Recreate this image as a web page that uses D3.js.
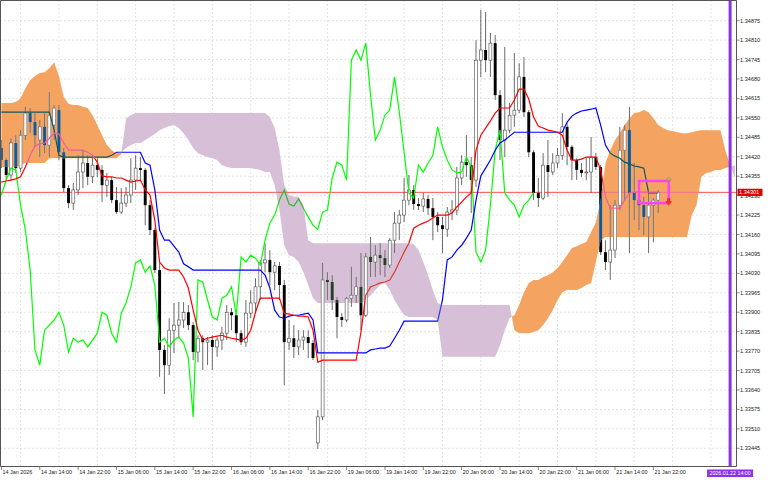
<!DOCTYPE html>
<html><head><meta charset="utf-8">
<script src="https://cdn.jsdelivr.net/npm/d3@7"></script>
<style>body{margin:0;background:#fff;overflow:hidden} svg{display:block}</style>
</head><body>
<svg id="c" width="768" height="480"></svg>
<script>
// ---------------- DATA ----------------
const timeLabels = ["14 Jan 2026","14 Jan 14:00","14 Jan 22:00","15 Jan 06:00","15 Jan 14:00","15 Jan 22:00","16 Jan 06:00","16 Jan 14:00","16 Jan 22:00","19 Jan 06:00","19 Jan 14:00","19 Jan 22:00","20 Jan 06:00","20 Jan 14:00","20 Jan 22:00","21 Jan 06:00","21 Jan 14:00","21 Jan 22:00"];
const priceTicks = [1.34875,1.34810,1.34745,1.34680,1.34615,1.34550,1.34485,1.34420,1.34355,1.34290,1.34225,1.34160,1.34095,1.34030,1.33965,1.33900,1.33835,1.33770,1.33705,1.33640,1.33575,1.33510,1.33445];

const open = [1.34449,1.34409,1.34359,1.34466,1.34382,1.34492,1.34566,1.34536,1.34476,1.34520,1.34459,1.34526,1.34576,1.34435,1.34315,1.34265,1.34309,1.34369,1.34399,1.34353,1.34392,1.34376,1.34325,1.34342,1.34275,1.34235,1.34265,1.34292,1.34342,1.34382,1.34376,1.34258,1.34175,1.34041,1.33774,1.33723,1.33840,1.33857,1.33874,1.33900,1.33857,1.33767,1.33813,1.33800,1.33807,1.33784,1.33807,1.33830,1.33900,1.33890,1.33830,1.33800,1.33897,1.33931,1.33985,1.34065,1.34075,1.34034,1.34055,1.33991,1.33800,1.33813,1.33784,1.33807,1.33817,1.33797,1.33463,1.33550,1.34008,1.34001,1.33941,1.33884,1.33874,1.33947,1.33957,1.33985,1.33890,1.34085,1.34068,1.34091,1.34081,1.34058,1.34141,1.34198,1.34225,1.34275,1.34309,1.34262,1.34255,1.34279,1.34248,1.34219,1.34191,1.34178,1.34235,1.34242,1.34349,1.34402,1.34392,1.34342,1.34743,1.34777,1.34743,1.34800,1.34626,1.34476,1.34509,1.34559,1.34576,1.34687,1.34569,1.34435,1.34299,1.34282,1.34392,1.34369,1.34399,1.34425,1.34520,1.34453,1.34409,1.34376,1.34366,1.34369,1.34419,1.34386,1.34101,1.34068,1.34108,1.34258,1.34442,1.34509,1.34299,1.34275,1.34258,1.34219,1.34258,1.34275];
const high = [1.34476,1.34415,1.34482,1.34492,1.34509,1.34587,1.34583,1.34566,1.34543,1.34566,1.34636,1.34593,1.34593,1.34449,1.34325,1.34332,1.34425,1.34442,1.34425,1.34425,1.34415,1.34392,1.34366,1.34353,1.34319,1.34315,1.34319,1.34415,1.34425,1.34419,1.34382,1.34275,1.34181,1.34068,1.33790,1.33880,1.33931,1.33934,1.33934,1.33924,1.33867,1.33823,1.33823,1.33817,1.33823,1.33817,1.33851,1.33924,1.33914,1.33897,1.33840,1.33941,1.33974,1.34014,1.34075,1.34131,1.34108,1.34068,1.34068,1.34008,1.33874,1.33857,1.33840,1.33840,1.33840,1.33807,1.33573,1.34065,1.34034,1.34024,1.33951,1.33897,1.33951,1.34052,1.34018,1.34098,1.34098,1.34152,1.34124,1.34131,1.34108,1.34148,1.34235,1.34242,1.34349,1.34359,1.34325,1.34282,1.34299,1.34292,1.34282,1.34235,1.34219,1.34252,1.34275,1.34386,1.34425,1.34492,1.34419,1.34810,1.34911,1.34904,1.34834,1.34827,1.34643,1.34787,1.34600,1.34767,1.34733,1.34754,1.34576,1.34442,1.34349,1.34432,1.34476,1.34432,1.34449,1.34566,1.34533,1.34459,1.34415,1.34399,1.34419,1.34486,1.34432,1.34392,1.34141,1.34258,1.34275,1.34520,1.34526,1.34587,1.34399,1.34325,1.34286,1.34302,1.34282,1.34309];
const low = [1.34382,1.34342,1.34342,1.34366,1.34369,1.34476,1.34499,1.34453,1.34419,1.34432,1.34419,1.34476,1.34409,1.34302,1.34248,1.34242,1.34292,1.34315,1.34325,1.34332,1.34353,1.34268,1.34286,1.34265,1.34229,1.34229,1.34252,1.34265,1.34309,1.34342,1.34191,1.34158,1.34031,1.33684,1.33627,1.33690,1.33764,1.33813,1.33847,1.33840,1.33740,1.33733,1.33707,1.33723,1.33707,1.33751,1.33774,1.33807,1.33840,1.33800,1.33790,1.33784,1.33880,1.33900,1.33941,1.34034,1.33991,1.33974,1.33941,1.33656,1.33774,1.33747,1.33757,1.33774,1.33747,1.33740,1.33443,1.33539,1.33941,1.33907,1.33813,1.33851,1.33867,1.33918,1.33931,1.33840,1.33884,1.34018,1.34018,1.34024,1.34018,1.34048,1.34098,1.34141,1.34201,1.34258,1.34242,1.34242,1.34235,1.34225,1.34141,1.34168,1.34098,1.34152,1.34208,1.34225,1.34325,1.34353,1.34232,1.34319,1.34687,1.34703,1.34687,1.34610,1.34409,1.34419,1.34499,1.34520,1.34566,1.34553,1.34419,1.34275,1.34252,1.34275,1.34286,1.34359,1.34382,1.34409,1.34392,1.34342,1.34342,1.34353,1.34342,1.34299,1.34376,1.34091,1.34041,1.34008,1.34081,1.34242,1.34275,1.34098,1.34208,1.34175,1.34158,1.34098,1.34134,1.34232];
const close = [1.34409,1.34359,1.34466,1.34382,1.34492,1.34566,1.34536,1.34492,1.34520,1.34459,1.34559,1.34583,1.34435,1.34315,1.34265,1.34309,1.34369,1.34399,1.34353,1.34392,1.34376,1.34325,1.34342,1.34275,1.34235,1.34265,1.34292,1.34342,1.34382,1.34376,1.34258,1.34175,1.34041,1.33774,1.33723,1.33840,1.33857,1.33874,1.33900,1.33857,1.33767,1.33813,1.33800,1.33807,1.33784,1.33807,1.33830,1.33900,1.33890,1.33830,1.33800,1.33897,1.33931,1.33985,1.34065,1.34075,1.34034,1.34055,1.33991,1.33800,1.33813,1.33784,1.33807,1.33817,1.33797,1.33747,1.33550,1.34008,1.34001,1.33941,1.33884,1.33874,1.33947,1.33957,1.33985,1.33890,1.34085,1.34068,1.34091,1.34081,1.34058,1.34141,1.34198,1.34225,1.34275,1.34309,1.34262,1.34255,1.34279,1.34248,1.34219,1.34191,1.34178,1.34235,1.34242,1.34349,1.34402,1.34392,1.34342,1.34743,1.34777,1.34743,1.34800,1.34626,1.34476,1.34509,1.34559,1.34576,1.34687,1.34569,1.34435,1.34299,1.34282,1.34392,1.34369,1.34399,1.34425,1.34520,1.34453,1.34409,1.34376,1.34366,1.34369,1.34419,1.34386,1.34101,1.34068,1.34108,1.34258,1.34442,1.34509,1.34299,1.34275,1.34258,1.34219,1.34258,1.34275,1.34301];

const tenkan = [1.34335,1.34339,1.34342,1.34346,1.34353,1.34386,1.34425,1.34456,1.34463,1.34466,1.34482,1.34499,1.34496,1.34466,1.34442,1.34442,1.34442,1.34442,1.34435,1.34425,1.34402,1.34356,1.34353,1.34353,1.34349,1.34349,1.34342,1.34335,1.34339,1.34342,1.34309,1.34292,1.34208,1.34068,1.34048,1.34041,1.34041,1.34041,1.34018,1.33981,1.33907,1.33840,1.33807,1.33813,1.33817,1.33820,1.33823,1.33817,1.33813,1.33810,1.33807,1.33813,1.33840,1.33900,1.33947,1.33947,1.33947,1.33947,1.33947,1.33897,1.33894,1.33890,1.33887,1.33887,1.33884,1.33840,1.33733,1.33740,1.33740,1.33740,1.33740,1.33740,1.33740,1.33740,1.33740,1.33833,1.33957,1.33985,1.33991,1.33998,1.34001,1.34008,1.34034,1.34068,1.34101,1.34131,1.34181,1.34191,1.34198,1.34205,1.34215,1.34225,1.34225,1.34225,1.34232,1.34252,1.34268,1.34286,1.34299,1.34442,1.34492,1.34516,1.34540,1.34566,1.34583,1.34583,1.34583,1.34610,1.34646,1.34646,1.34613,1.34553,1.34523,1.34516,1.34509,1.34506,1.34502,1.34492,1.34442,1.34409,1.34409,1.34412,1.34419,1.34419,1.34419,1.34376,1.34286,1.34248,1.34248,1.34248,1.34275,1.34299,1.34302,1.34302,1.34302,1.34302,1.34302,1.34302];
const kijun = [1.34569,1.34569,1.34569,1.34569,1.34569,1.34569,1.34569,1.34569,1.34569,1.34569,1.34569,1.34509,1.34425,1.34419,1.34419,1.34419,1.34419,1.34419,1.34419,1.34419,1.34419,1.34419,1.34419,1.34425,1.34435,1.34435,1.34435,1.34435,1.34435,1.34435,1.34399,1.34392,1.34309,1.34175,1.34141,1.34141,1.34121,1.34101,1.34062,1.34052,1.34041,1.34041,1.34041,1.34041,1.34041,1.34041,1.34041,1.34041,1.34041,1.34041,1.34041,1.34041,1.34041,1.34041,1.34041,1.34024,1.33981,1.33907,1.33884,1.33880,1.33887,1.33890,1.33890,1.33894,1.33897,1.33874,1.33764,1.33764,1.33764,1.33764,1.33764,1.33764,1.33764,1.33764,1.33764,1.33764,1.33764,1.33774,1.33777,1.33780,1.33780,1.33787,1.33813,1.33840,1.33870,1.33870,1.33870,1.33870,1.33870,1.33870,1.33870,1.33870,1.33941,1.34075,1.34085,1.34108,1.34124,1.34148,1.34175,1.34275,1.34356,1.34382,1.34409,1.34442,1.34466,1.34476,1.34489,1.34502,1.34502,1.34502,1.34502,1.34502,1.34502,1.34502,1.34502,1.34502,1.34502,1.34502,1.34536,1.34556,1.34566,1.34573,1.34576,1.34579,1.34583,1.34526,1.34459,1.34432,1.34422,1.34415,1.34402,1.34396,1.34389,1.34386,1.34382,1.34299,1.34299,1.34299];
const chikou = [1.34292,1.34342,1.34382,1.34376,1.34258,1.34175,1.34041,1.33774,1.33723,1.33840,1.33857,1.33874,1.33900,1.33857,1.33767,1.33813,1.33800,1.33807,1.33784,1.33807,1.33830,1.33900,1.33890,1.33830,1.33800,1.33897,1.33931,1.33985,1.34065,1.34075,1.34034,1.34055,1.33991,1.33800,1.33813,1.33784,1.33807,1.33817,1.33797,1.33747,1.33550,1.34008,1.34001,1.33941,1.33884,1.33874,1.33947,1.33957,1.33985,1.33890,1.34085,1.34068,1.34091,1.34081,1.34058,1.34141,1.34198,1.34225,1.34275,1.34309,1.34262,1.34255,1.34279,1.34248,1.34219,1.34191,1.34178,1.34235,1.34242,1.34349,1.34402,1.34392,1.34342,1.34743,1.34777,1.34743,1.34800,1.34626,1.34476,1.34509,1.34559,1.34576,1.34687,1.34569,1.34435,1.34299,1.34282,1.34392,1.34369,1.34399,1.34425,1.34520,1.34453,1.34409,1.34376,1.34366,1.34369,1.34419,1.34386,1.34101,1.34068,1.34108,1.34258,1.34442,1.34509,1.34299,1.34275,1.34258,1.34219,1.34258,1.34275,1.34301];
const spanA = [1.34600,1.34600,1.34600,1.34603,1.34616,1.34649,1.34676,1.34690,1.34700,1.34703,1.34716,1.34736,1.34690,1.34620,1.34597,1.34593,1.34593,1.34587,1.34583,1.34559,1.34526,1.34492,1.34459,1.34442,1.34432,1.34435,1.34449,1.34459,1.34466,1.34466,1.34476,1.34486,1.34496,1.34509,1.34516,1.34523,1.34526,1.34516,1.34499,1.34476,1.34449,1.34432,1.34425,1.34419,1.34415,1.34409,1.34392,1.34386,1.34382,1.34382,1.34382,1.34382,1.34382,1.34379,1.34376,1.34369,1.34369,1.34325,1.34242,1.34124,1.34091,1.34085,1.34068,1.34034,1.33991,1.33947,1.33931,1.33931,1.33931,1.33931,1.33931,1.33931,1.33931,1.33931,1.33931,1.33931,1.33941,1.33957,1.33974,1.33991,1.33998,1.33974,1.33941,1.33914,1.33890,1.33884,1.33884,1.33884,1.33884,1.33884,1.33884,1.33874,1.33751,1.33751,1.33751,1.33751,1.33751,1.33751,1.33751,1.33751,1.33751,1.33751,1.33751,1.33751,1.33790,1.33840,1.33880,1.33890,1.33924,1.33967,1.33998,1.34008,1.34008,1.34018,1.34024,1.34034,1.34048,1.34068,1.34091,1.34115,1.34121,1.34128,1.34135,1.34168,1.34201,1.34275,1.34399,1.34442,1.34476,1.34499,1.34526,1.34549,1.34566,1.34569,1.34576,1.34569,1.34549,1.34526,1.34516,1.34509,1.34506,1.34502,1.34499,1.34499,1.34502,1.34506,1.34509,1.34509,1.34509,1.34509,1.34509,1.34442,1.34392,1.34349];
const spanB = [1.34386,1.34386,1.34386,1.34386,1.34392,1.34399,1.34399,1.34399,1.34399,1.34399,1.34415,1.34415,1.34415,1.34415,1.34415,1.34415,1.34415,1.34415,1.34415,1.34415,1.34415,1.34415,1.34415,1.34415,1.34415,1.34429,1.34549,1.34559,1.34566,1.34566,1.34566,1.34566,1.34566,1.34566,1.34566,1.34566,1.34566,1.34566,1.34566,1.34566,1.34566,1.34566,1.34566,1.34566,1.34566,1.34566,1.34566,1.34566,1.34566,1.34566,1.34566,1.34566,1.34566,1.34566,1.34566,1.34566,1.34553,1.34516,1.34442,1.34325,1.34292,1.34286,1.34286,1.34258,1.34141,1.34131,1.34131,1.34131,1.34131,1.34131,1.34131,1.34131,1.34131,1.34131,1.34131,1.34131,1.34131,1.34131,1.34131,1.34131,1.34131,1.34131,1.34131,1.34131,1.34131,1.34131,1.34128,1.34108,1.34068,1.34024,1.33974,1.33931,1.33924,1.33924,1.33924,1.33924,1.33924,1.33924,1.33924,1.33924,1.33924,1.33924,1.33924,1.33924,1.33924,1.33924,1.33924,1.33840,1.33830,1.33830,1.33830,1.33834,1.33840,1.33857,1.33880,1.33907,1.33941,1.33967,1.33974,1.33974,1.33974,1.33981,1.33991,1.33998,1.34068,1.34141,1.34152,1.34152,1.34152,1.34152,1.34152,1.34152,1.34152,1.34152,1.34152,1.34152,1.34152,1.34152,1.34152,1.34152,1.34152,1.34152,1.34152,1.34152,1.34225,1.34258,1.34353,1.34366,1.34369,1.34376,1.34376,1.34382,1.34386,1.34392];

const lastPrice = 1.34301;
const lastPriceLabel = "1.34301";
const markerBar = 152;
const markerLabel = "2026.01.22 14:00";
const signalBox = {from: 133, to: 139.2, top: 1.34339, bottom: 1.34265};
const signalUp = 1.34352;
const signalDown = 1.34270;

// ---------------- CHART ----------------
const svg = d3.select("#c");
const W = 768, H = 480, plotR = 736, plotB = 466.5;
const x = d3.scaleLinear().domain([0, 136]).range([1.4, 653.4]);
const y = d3.scaleLinear().domain([1.34875, 1.33445]).range([20.7, 448.3]);
const FONT = "'Liberation Sans', Arial, sans-serif";

svg.append("rect").attr("width", W).attr("height", H).attr("fill", "#fff");
const defs = svg.append("defs");
defs.append("clipPath").attr("id", "plot")
  .append("rect").attr("x", 0).attr("y", 0).attr("width", plotR).attr("height", plotB);

// cloud geometry with crossing points
const cloudPts = [];
for (let i = 0; i < spanA.length; i++) {
  cloudPts.push({i: i, a: spanA[i], b: spanB[i]});
  if (i < spanA.length - 1) {
    const d0 = spanA[i] - spanB[i], d1 = spanA[i+1] - spanB[i+1];
    if (d0 * d1 < 0) {
      const t = d0 / (d0 - d1);
      const v = spanA[i] + t * (spanA[i+1] - spanA[i]);
      cloudPts.push({i: i + t, a: v, b: v});
    }
  }
}
const orangeD = d3.area().x(d => x(d.i)).y0(d => y(d.b)).y1(d => y(Math.max(d.a, d.b)))(cloudPts);
const thistleD = d3.area().x(d => x(d.i)).y0(d => y(d.a)).y1(d => y(Math.max(d.a, d.b)))(cloudPts);
defs.append("clipPath").attr("id", "clipO").append("path").attr("d", orangeD);
defs.append("clipPath").attr("id", "clipT").append("path").attr("d", thistleD);

const plot = svg.append("g").attr("clip-path", "url(#plot)");

// grid
const gridG = plot.append("g").attr("stroke", "#d6d6d6").attr("stroke-width", 0.7).attr("stroke-dasharray", "2,2");
d3.range(4, 160, 8).forEach(b => gridG.append("line").attr("x1", x(b)).attr("x2", x(b)).attr("y1", 0).attr("y2", plotB));
priceTicks.forEach(p => gridG.append("line").attr("x1", 0).attr("x2", plotR).attr("y1", y(p)).attr("y2", y(p)));

// palettes: normal and the inverted look of items lying inside the cloud
const PAL = {
  normal:  {bg: null,      wick: "#3a3a3a", bear: "#000000", bull: "#ffffff", edge: "#4a4a4a", ten: "#ff0000", kij: "#0000ff", chi: "#00ff00", price: "#ff0000"},
  orange:  {bg: "#f4a460", wick: "#3d6b98", bear: "#0b5b9f", bull: "#ffffff", edge: "#5a6f88", ten: "#f45b9f", kij: "#0b5b60", chi: "#0ba49f", price: "#f45b9f"},
  thistle: {bg: "#d8bfd8", wick: "#485a48", bear: "#274027", bull: "#ffffff", edge: "#5a665a", ten: "#d84027", kij: "#2740d8", chi: "#27bf27", price: "#d84027"}
};
const line = d3.line().x((d, i) => x(i)).y(d => y(d));

function drawLayer(g, p) {
  if (p.bg) g.append("rect").attr("x", 0).attr("y", 0).attr("width", plotR).attr("height", plotB).attr("fill", p.bg);
  g.append("line").attr("x1", 0).attr("x2", plotR).attr("y1", y(lastPrice)).attr("y2", y(lastPrice))
    .attr("stroke", p.price).attr("stroke-width", 0.7);
  close.forEach((c, i) => {
    const o = open[i], xi = x(i);
    g.append("line").attr("x1", xi).attr("x2", xi).attr("y1", y(high[i])).attr("y2", y(low[i]))
      .attr("stroke", p.wick).attr("stroke-width", 0.75);
    const top = y(Math.max(o, c)), bot = y(Math.min(o, c));
    const bull = c >= o;
    g.append("rect").attr("x", xi - 1.45).attr("width", 2.9)
      .attr("y", top).attr("height", Math.max(0.8, bot - top))
      .attr("fill", bull ? p.bull : p.bear)
      .attr("stroke", bull ? p.edge : "none").attr("stroke-width", 0.6);
  });
  g.append("path").datum(chikou).attr("d", line).attr("fill", "none").attr("stroke", p.chi).attr("stroke-width", 1.2);
  g.append("path").datum(kijun).attr("d", line).attr("fill", "none").attr("stroke", p.kij).attr("stroke-width", 1.2);
  g.append("path").datum(tenkan).attr("d", line).attr("fill", "none").attr("stroke", p.ten).attr("stroke-width", 1.2);
}
drawLayer(plot.append("g"), PAL.normal);
drawLayer(plot.append("g").attr("clip-path", "url(#clipO)"), PAL.orange);
drawLayer(plot.append("g").attr("clip-path", "url(#clipT)"), PAL.thistle);

// signal box and arrows
plot.append("rect")
  .attr("x", x(signalBox.from)).attr("y", y(signalBox.top))
  .attr("width", x(signalBox.to) - x(signalBox.from)).attr("height", y(signalBox.bottom) - y(signalBox.top))
  .attr("fill", "none").attr("stroke", "#ff40ff").attr("stroke-width", 2.4);
const ax = x(signalBox.to), uy = y(signalUp), dy = y(signalDown);
plot.append("path").attr("d", `M${ax-3},${uy+3} L${ax},${uy} L${ax+3},${uy+3} M${ax-1.2},${uy+2} L${ax-1.2},${uy+5} M${ax+1.2},${uy+2} L${ax+1.2},${uy+5}`)
  .attr("fill", "none").attr("stroke", "#4cc04c").attr("stroke-width", 0.8);
plot.append("path").attr("d", `M${ax-1.2},${dy-3} L${ax+1.2},${dy-3} L${ax+1.2},${dy} L${ax+3},${dy} L${ax},${dy+3.5} L${ax-3},${dy} L${ax-1.2},${dy} Z`)
  .attr("fill", "#ff3030").attr("stroke", "#e01010").attr("stroke-width", 0.5);

// vertical marker line
svg.append("line").attr("x1", x(markerBar)).attr("x2", x(markerBar)).attr("y1", 0).attr("y2", plotB)
  .attr("stroke", "#8f2fee").attr("stroke-width", 3);

// frame
svg.append("path").attr("d", `M0.5,${plotB} L0.5,0.5 L${plotR+0.5},0.5 L${plotR+0.5},${plotB} L0.5,${plotB}`)
  .attr("fill", "none").attr("stroke", "#555").attr("stroke-width", 1);

// right axis
const ra = svg.append("g").attr("font-family", FONT).attr("font-size", 5.6).attr("fill", "#222");
priceTicks.forEach(p => {
  ra.append("line").attr("x1", plotR + 0.5).attr("x2", plotR + 3.5).attr("y1", y(p)).attr("y2", y(p)).attr("stroke", "#555").attr("stroke-width", 0.7);
  ra.append("text").attr("x", plotR + 4).attr("y", y(p) + 2).text(p.toFixed(5));
});
// last price label
const lpY = y(lastPrice);
svg.append("rect").attr("x", plotR + 1.5).attr("y", lpY - 3.6).attr("width", 25).attr("height", 7.2).attr("fill", "#dd0000");
svg.append("text").attr("x", plotR + 3).attr("y", lpY + 2).attr("font-family", FONT).attr("font-size", 5.6)
  .attr("fill", "#fff").text(lastPriceLabel);

// bottom axis
const ba = svg.append("g").attr("font-family", FONT).attr("font-size", 5.4).attr("fill", "#222");
timeLabels.forEach((t, k) => {
  const xi = x(k * 8);
  ba.append("line").attr("x1", xi).attr("x2", xi).attr("y1", plotB).attr("y2", plotB + 3.5).attr("stroke", "#555").attr("stroke-width", 0.7);
  ba.append("text").attr("x", xi + 1.2).attr("y", 474).text(t);
});
const mx = x(markerBar);
svg.append("rect").attr("x", mx - 23).attr("y", 469.5).attr("width", 46).attr("height", 7.5).attr("fill", "#8f2fee");
svg.append("text").attr("x", mx).attr("y", 475.2).attr("text-anchor", "middle").attr("font-family", FONT)
  .attr("font-size", 5.3).attr("fill", "#fff").text(markerLabel);
</script>
</body></html>
